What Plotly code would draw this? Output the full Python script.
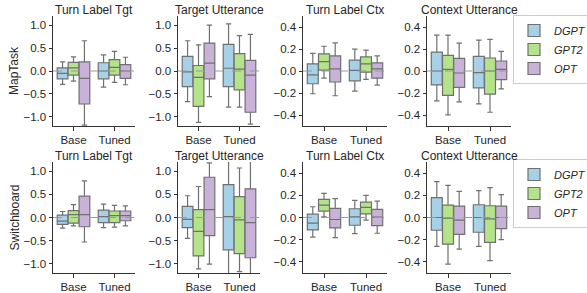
import plotly.graph_objects as go

W, H = 587, 293

models = ["DGPT", "GPT2", "OPT"]
conditions = ["Base", "Tuned"]
datasets = ["MapTask", "Switchboard"]
metrics = ["Turn Label Tgt", "Target Utterance", "Turn Label Ctx", "Context Utterance"]
colors = {"DGPT": "#a6d1e6", "GPT2": "#b5e38a", "OPT": "#c8b2d8"}

# stats per [dataset][metric][model] -> lists over conditions (Base, Tuned)
# MapTask
mt_tlt_q1 = {"DGPT": [-0.17, -0.17], "GPT2": [-0.09, -0.09], "OPT": [-0.72, -0.16]}
mt_tlt_med = {"DGPT": [-0.05, 0.0], "GPT2": [0.07, 0.08], "OPT": [-0.16, 0.0]}
mt_tlt_q3 = {"DGPT": [0.07, 0.18], "GPT2": [0.19, 0.25], "OPT": [0.20, 0.14]}
mt_tlt_lo = {"DGPT": [-0.29, -0.35], "GPT2": [-0.22, -0.25], "OPT": [-1.18, -0.30]}
mt_tlt_hi = {"DGPT": [0.20, 0.35], "GPT2": [0.31, 0.43], "OPT": [0.66, 0.30]}

mt_tu_q1 = {"DGPT": [-0.34, -0.34], "GPT2": [-0.77, -0.41], "OPT": [-0.17, -0.90]}
mt_tu_med = {"DGPT": [-0.02, 0.06], "GPT2": [-0.14, 0.04], "OPT": [0.17, -0.09]}
mt_tu_q3 = {"DGPT": [0.32, 0.58], "GPT2": [0.12, 0.38], "OPT": [0.61, 0.23]}
mt_tu_lo = {"DGPT": [-0.67, -0.79], "GPT2": [-1.12, -0.79], "OPT": [-0.56, -1.16]}
mt_tu_hi = {"DGPT": [0.66, 1.03], "GPT2": [0.57, 0.77], "OPT": [1.00, 0.80]}

mt_tlc_q1 = {"DGPT": [-0.116, -0.089], "GPT2": [0.008, -0.011], "OPT": [-0.100, -0.065]}
mt_tlc_med = {"DGPT": [-0.035, 0.005], "GPT2": [0.086, 0.065], "OPT": [0.020, 0.020]}
mt_tlc_q3 = {"DGPT": [0.065, 0.098], "GPT2": [0.156, 0.128], "OPT": [0.137, 0.074]}
mt_tlc_lo = {"DGPT": [-0.207, -0.183], "GPT2": [-0.065, -0.077], "OPT": [-0.225, -0.128]}
mt_tlc_hi = {"DGPT": [0.160, 0.198], "GPT2": [0.225, 0.190], "OPT": [0.255, 0.137]}

mt_cu_q1 = {"DGPT": [-0.127, -0.154], "GPT2": [-0.221, -0.211], "OPT": [-0.148, -0.079]}
mt_cu_med = {"DGPT": [0.0, -0.015], "GPT2": [0.015, 0.0], "OPT": [-0.018, 0.015]}
mt_cu_q3 = {"DGPT": [0.172, 0.133], "GPT2": [0.142, 0.118], "OPT": [0.115, 0.091]}
mt_cu_lo = {"DGPT": [-0.272, -0.299], "GPT2": [-0.399, -0.375], "OPT": [-0.281, -0.162]}
mt_cu_hi = {"DGPT": [0.326, 0.281], "GPT2": [0.326, 0.287], "OPT": [0.254, 0.178]}

# Switchboard
sb_tlt_q1 = {"DGPT": [-0.15, -0.11], "GPT2": [-0.12, -0.11], "OPT": [-0.20, -0.07]}
sb_tlt_med = {"DGPT": [-0.08, 0.02], "GPT2": [0.06, 0.04], "OPT": [0.06, 0.04]}
sb_tlt_q3 = {"DGPT": [0.05, 0.16], "GPT2": [0.15, 0.14], "OPT": [0.46, 0.14]}
sb_tlt_lo = {"DGPT": [-0.23, -0.22], "GPT2": [-0.18, -0.21], "OPT": [-0.53, -0.18]}
sb_tlt_hi = {"DGPT": [0.13, 0.29], "GPT2": [0.28, 0.26], "OPT": [0.79, 0.25]}

sb_tu_q1 = {"DGPT": [-0.22, -0.70], "GPT2": [-0.83, -0.78], "OPT": [-0.39, -0.87]}
sb_tu_med = {"DGPT": [-0.04, 0.02], "GPT2": [-0.30, -0.05], "OPT": [0.17, -0.11]}
sb_tu_q3 = {"DGPT": [0.24, 0.71], "GPT2": [0.17, 0.45], "OPT": [0.87, 0.62]}
sb_tu_lo = {"DGPT": [-0.45, -1.45], "GPT2": [-1.11, -1.17], "OPT": [-1.01, -1.45]}
sb_tu_hi = {"DGPT": [0.47, 1.45], "GPT2": [0.67, 1.07], "OPT": [1.18, 1.45]}

sb_tlc_q1 = {"DGPT": [-0.112, -0.070], "GPT2": [0.058, 0.033], "OPT": [-0.094, -0.073]}
sb_tlc_med = {"DGPT": [-0.050, 0.006], "GPT2": [0.112, 0.091], "OPT": [-0.018, 0.003]}
sb_tlc_q3 = {"DGPT": [0.030, 0.079], "GPT2": [0.164, 0.139], "OPT": [0.082, 0.073]}
sb_tlc_lo = {"DGPT": [-0.176, -0.145], "GPT2": [0.006, -0.024], "OPT": [-0.182, -0.142]}
sb_tlc_hi = {"DGPT": [0.097, 0.155], "GPT2": [0.218, 0.200], "OPT": [0.170, 0.148]}

sb_cu_q1 = {"DGPT": [-0.115, -0.133], "GPT2": [-0.240, -0.224], "OPT": [-0.152, -0.100]}
sb_cu_med = {"DGPT": [0.0, 0.0], "GPT2": [-0.006, -0.012], "OPT": [-0.024, 0.0]}
sb_cu_q3 = {"DGPT": [0.179, 0.115], "GPT2": [0.112, 0.106], "OPT": [0.103, 0.103]}
sb_cu_lo = {"DGPT": [-0.260, -0.260], "GPT2": [-0.420, -0.388], "OPT": [-0.285, -0.200]}
sb_cu_hi = {"DGPT": [0.324, 0.242], "GPT2": [0.290, 0.270], "OPT": [0.236, 0.206]}

stats = [
    [(mt_tlt_q1, mt_tlt_med, mt_tlt_q3, mt_tlt_lo, mt_tlt_hi),
     (mt_tu_q1, mt_tu_med, mt_tu_q3, mt_tu_lo, mt_tu_hi),
     (mt_tlc_q1, mt_tlc_med, mt_tlc_q3, mt_tlc_lo, mt_tlc_hi),
     (mt_cu_q1, mt_cu_med, mt_cu_q3, mt_cu_lo, mt_cu_hi)],
    [(sb_tlt_q1, sb_tlt_med, sb_tlt_q3, sb_tlt_lo, sb_tlt_hi),
     (sb_tu_q1, sb_tu_med, sb_tu_q3, sb_tu_lo, sb_tu_hi),
     (sb_tlc_q1, sb_tlc_med, sb_tlc_q3, sb_tlc_lo, sb_tlc_hi),
     (sb_cu_q1, sb_cu_med, sb_cu_q3, sb_cu_lo, sb_cu_hi)],
]

col_px = [(53, 135), (178, 260), (303, 387), (427, 511)]
row_px = [(16, 126), (162, 273)]
yranges = [[-1.2, 1.2], [-1.2, 1.2], [-0.5, 0.5], [-0.5, 0.5]]
yticks = [[1.0, 0.5, 0.0, -0.5, -1.0], [1.0, 0.5, 0.0, -0.5, -1.0],
          [0.4, 0.2, 0.0, -0.2, -0.4], [0.4, 0.2, 0.0, -0.2, -0.4]]

FONT = "Liberation Sans, Arial, sans-serif"
TXT = "#262626"
fig = go.Figure()
layout = {}
annotations = []
shapes = []

for r in range(2):
    for c in range(4):
        idx = r * 4 + c + 1
        xa = "x" if idx == 1 else f"x{idx}"
        ya = "y" if idx == 1 else f"y{idx}"
        q1, med, q3, lo, hi = stats[r][c]
        for m in models:
            fig.add_trace(go.Box(
                x=conditions, q1=q1[m], median=med[m], q3=q3[m],
                lowerfence=lo[m], upperfence=hi[m],
                name=m, offsetgroup=m, legendgroup=f"{m}{r}",
                fillcolor=colors[m], line=dict(color="#707070", width=1.2),
                whiskerwidth=0.5, boxpoints=False,
                showlegend=(c == 0), legend=("legend" if r == 0 else "legend2"),
                xaxis=xa, yaxis=ya, hoverinfo="skip",
            ))
        x0, x1 = col_px[c]
        y0, y1 = row_px[r]
        axis_common = dict(showline=True, linecolor="#333333", linewidth=1,
                           ticks="outside", ticklen=3.5, tickcolor="#333333",
                           showgrid=False, zeroline=False, automargin=False,
                           tickfont=dict(size=11.5, color=TXT, family=FONT))
        layout["xaxis" if idx == 1 else f"xaxis{idx}"] = dict(
            domain=[x0 / W, x1 / W], anchor=ya, type="category",
            range=[-0.5, 1.5], **axis_common)
        layout["yaxis" if idx == 1 else f"yaxis{idx}"] = dict(
            domain=[1 - y1 / H, 1 - y0 / H], anchor=xa, range=yranges[c],
            tickvals=yticks[c], tickformat=".1f", **axis_common)
        annotations.append(dict(
            text=metrics[c], x=(x0 + x1) / 2 / W, y=1 - (y0 - 6) / H,
            xref="paper", yref="paper", showarrow=False,
            xanchor="center", yanchor="middle",
            font=dict(size=12, color=TXT, family=FONT)))
        shapes.append(dict(
            type="line", xref=f"{xa} domain", yref=ya, x0=0, x1=1, y0=0, y1=0,
            line=dict(color="#999999", width=1, dash="dash"), layer="above"))
    annotations.append(dict(
        text=datasets[r], x=14 / W, y=1 - (sum(row_px[r]) / 2) / H,
        xref="paper", yref="paper", showarrow=False, textangle=-90,
        xanchor="center", yanchor="middle",
        font=dict(size=12, color=TXT, family=FONT)))

legend_common = dict(xanchor="left", yanchor="top", bgcolor="white",
                     bordercolor="#cccccc", borderwidth=1,
                     font=dict(size=11, color=TXT, family=FONT, style="italic"),
                     tracegroupgap=0, itemwidth=30)
fig.update_layout(
    width=W, height=H, margin=dict(l=0, r=0, t=0, b=0, autoexpand=False),
    paper_bgcolor="white", plot_bgcolor="white",
    boxmode="group", boxgap=0.2, boxgroupgap=0.02,
    annotations=annotations, shapes=shapes,
    legend=dict(x=513 / W, y=1 - 15 / H, **legend_common),
    legend2=dict(x=513 / W, y=1 - 159 / H, **legend_common),
    **layout,
)
fig.write_html("out.html", config={"displayModeBar": False},
               post_script="document.body.style.margin='0';")
